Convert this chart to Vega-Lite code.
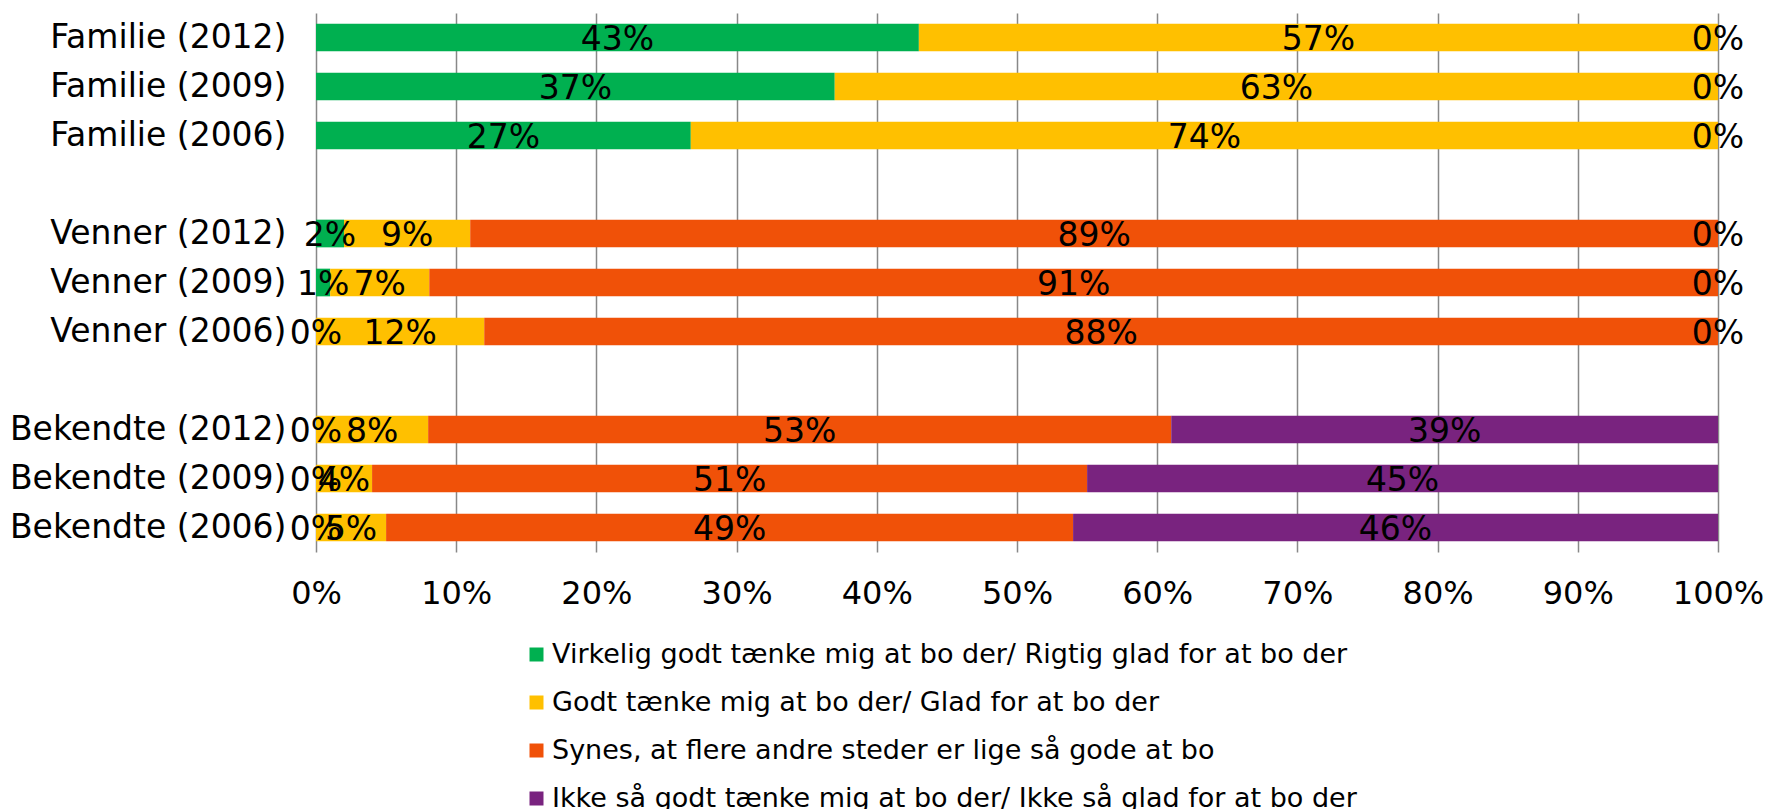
{
  "$schema": "https://vega.github.io/schema/vega-lite/v6.json",
  "width": 1402,
  "height": 539,
  "autosize": {"type": "none"},
  "padding": {"left": 316, "top": 13, "right": 50, "bottom": 257},
  "background": "white",
  "config": {"view": {"stroke": null}, "font": "DejaVu Sans"},
  "data": {
    "values": [
      {"group": "Familie (2012)", "resp": "Virkelig godt tænke mig at bo der/ Rigtig glad for at bo der", "k": 1, "value": 0.43},
      {"group": "Familie (2012)", "resp": "Godt tænke mig at bo der/ Glad for at bo der", "k": 2, "value": 0.57},
      {"group": "Familie (2012)", "resp": "Ikke så godt tænke mig at bo der/ Ikke så glad for at bo der", "k": 4, "value": 0},
      {"group": "Familie (2009)", "resp": "Virkelig godt tænke mig at bo der/ Rigtig glad for at bo der", "k": 1, "value": 0.37},
      {"group": "Familie (2009)", "resp": "Godt tænke mig at bo der/ Glad for at bo der", "k": 2, "value": 0.63},
      {"group": "Familie (2009)", "resp": "Ikke så godt tænke mig at bo der/ Ikke så glad for at bo der", "k": 4, "value": 0},
      {"group": "Familie (2006)", "resp": "Virkelig godt tænke mig at bo der/ Rigtig glad for at bo der", "k": 1, "value": 0.27},
      {"group": "Familie (2006)", "resp": "Godt tænke mig at bo der/ Glad for at bo der", "k": 2, "value": 0.74},
      {"group": "Familie (2006)", "resp": "Ikke så godt tænke mig at bo der/ Ikke så glad for at bo der", "k": 4, "value": 0},
      {"group": "Venner (2012)", "resp": "Virkelig godt tænke mig at bo der/ Rigtig glad for at bo der", "k": 1, "value": 0.02},
      {"group": "Venner (2012)", "resp": "Godt tænke mig at bo der/ Glad for at bo der", "k": 2, "value": 0.09},
      {"group": "Venner (2012)", "resp": "Synes, at flere andre steder er lige så gode at bo", "k": 3, "value": 0.89},
      {"group": "Venner (2012)", "resp": "Ikke så godt tænke mig at bo der/ Ikke så glad for at bo der", "k": 4, "value": 0},
      {"group": "Venner (2009)", "resp": "Virkelig godt tænke mig at bo der/ Rigtig glad for at bo der", "k": 1, "value": 0.01},
      {"group": "Venner (2009)", "resp": "Godt tænke mig at bo der/ Glad for at bo der", "k": 2, "value": 0.07},
      {"group": "Venner (2009)", "resp": "Synes, at flere andre steder er lige så gode at bo", "k": 3, "value": 0.91},
      {"group": "Venner (2009)", "resp": "Ikke så godt tænke mig at bo der/ Ikke så glad for at bo der", "k": 4, "value": 0},
      {"group": "Venner (2006)", "resp": "Virkelig godt tænke mig at bo der/ Rigtig glad for at bo der", "k": 1, "value": 0},
      {"group": "Venner (2006)", "resp": "Godt tænke mig at bo der/ Glad for at bo der", "k": 2, "value": 0.12},
      {"group": "Venner (2006)", "resp": "Synes, at flere andre steder er lige så gode at bo", "k": 3, "value": 0.88},
      {"group": "Venner (2006)", "resp": "Ikke så godt tænke mig at bo der/ Ikke så glad for at bo der", "k": 4, "value": 0},
      {"group": "Bekendte (2012)", "resp": "Virkelig godt tænke mig at bo der/ Rigtig glad for at bo der", "k": 1, "value": 0},
      {"group": "Bekendte (2012)", "resp": "Godt tænke mig at bo der/ Glad for at bo der", "k": 2, "value": 0.08},
      {"group": "Bekendte (2012)", "resp": "Synes, at flere andre steder er lige så gode at bo", "k": 3, "value": 0.53},
      {"group": "Bekendte (2012)", "resp": "Ikke så godt tænke mig at bo der/ Ikke så glad for at bo der", "k": 4, "value": 0.39},
      {"group": "Bekendte (2009)", "resp": "Virkelig godt tænke mig at bo der/ Rigtig glad for at bo der", "k": 1, "value": 0},
      {"group": "Bekendte (2009)", "resp": "Godt tænke mig at bo der/ Glad for at bo der", "k": 2, "value": 0.04},
      {"group": "Bekendte (2009)", "resp": "Synes, at flere andre steder er lige så gode at bo", "k": 3, "value": 0.51},
      {"group": "Bekendte (2009)", "resp": "Ikke så godt tænke mig at bo der/ Ikke så glad for at bo der", "k": 4, "value": 0.45},
      {"group": "Bekendte (2006)", "resp": "Virkelig godt tænke mig at bo der/ Rigtig glad for at bo der", "k": 1, "value": 0},
      {"group": "Bekendte (2006)", "resp": "Godt tænke mig at bo der/ Glad for at bo der", "k": 2, "value": 0.05},
      {"group": "Bekendte (2006)", "resp": "Synes, at flere andre steder er lige så gode at bo", "k": 3, "value": 0.49},
      {"group": "Bekendte (2006)", "resp": "Ikke så godt tænke mig at bo der/ Ikke så glad for at bo der", "k": 4, "value": 0.46}
    ]
  },
  "encoding": {
    "y": {
      "field": "group",
      "type": "nominal",
      "title": null,
      "scale": {
        "domain": ["Familie (2012)", "Familie (2009)", "Familie (2006)", " ", "Venner (2012)", "Venner (2009)", "Venner (2006)", "  ", "Bekendte (2012)", "Bekendte (2009)", "Bekendte (2006)"],
        "paddingInner": 0.435,
        "paddingOuter": 0.2175
      },
      "axis": {"ticks": false, "domain": false, "grid": false, "labelFontSize": 33, "labelColor": "black", "labelPadding": 30, "labelLimit": 0}
    }
  },
  "layer": [
    {
      "mark": {"type": "bar"},
      "encoding": {
        "x": {
          "field": "value",
          "type": "quantitative",
          "stack": "normalize",
          "title": null,
          "scale": {"domain": [0, 1], "nice": false},
          "axis": {"values": [0, 0.1, 0.2, 0.3, 0.4, 0.5, 0.6, 0.7, 0.8, 0.9, 1], "format": ".0%", "grid": true, "gridColor": "#888888", "gridWidth": 1.5, "domain": false, "ticks": false, "labelFontSize": 32, "labelColor": "black", "labelPadding": 26, "labelFlush": false, "labelOverlap": false, "labelBound": false}
        },
        "order": {"field": "k", "type": "quantitative"},
        "color": {
          "field": "resp",
          "type": "nominal",
          "scale": {
            "domain": ["Virkelig godt tænke mig at bo der/ Rigtig glad for at bo der", "Godt tænke mig at bo der/ Glad for at bo der", "Synes, at flere andre steder er lige så gode at bo", "Ikke så godt tænke mig at bo der/ Ikke så glad for at bo der"],
            "range": ["#00B050", "#FFC000", "#F05108", "#79237F"]
          },
          "legend": {"orient": "none", "legendX": 207, "legendY": 628, "direction": "vertical", "title": null, "symbolType": "square", "symbolSize": 196, "symbolStrokeWidth": 0, "labelFontSize": 27, "labelColor": "black", "rowPadding": 20, "labelOffset": 2, "labelLimit": 0}
        }
      }
    },
    {
      "transform": [
        {"stack": "value", "groupby": ["group"], "sort": [{"field": "k", "order": "ascending"}], "offset": "normalize", "as": ["v0", "v1"]},
        {"fold": ["v0", "v1"], "as": ["edge", "pos"]},
        {"aggregate": [{"op": "mean", "field": "pos", "as": "mid"}, {"op": "max", "field": "value", "as": "pct"}], "groupby": ["group", "resp"]}
      ],
      "mark": {"type": "text", "fontSize": 33, "color": "black", "dy": 2},
      "encoding": {
        "x": {"field": "mid", "type": "quantitative"},
        "text": {"field": "pct", "type": "quantitative", "format": ".0%"}
      }
    }
  ]
}
